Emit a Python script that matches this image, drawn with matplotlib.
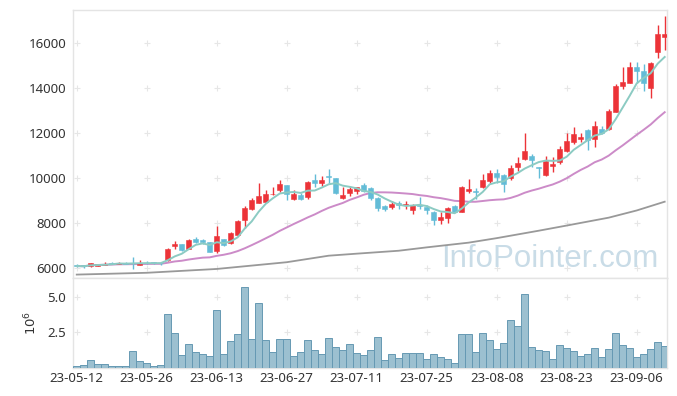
import numpy as np
import pandas as pd
import matplotlib
matplotlib.use("Agg")
import matplotlib.pyplot as plt

tick_labels = ['23-05-12', '23-05-26', '23-06-13', '23-06-27', '23-07-11',
               '23-07-25', '23-08-08', '23-08-23', '23-09-06']
tick_index = [0, 10, 20, 30, 40, 50, 60, 70, 80]

open_ = [6150, 6150, 6080, 6120, 6150, 6250, 6200, 6250, 6230, 6150,
         6250, 6270, 6240, 6370, 6980, 7080, 6870, 7300, 7250, 7150,
         6750, 7300, 7120, 7480, 8150, 8620, 8920, 8950, 9280, 9480,
         9700, 9060, 9240, 9180, 9930, 9780, 10100, 10000, 9140, 9360,
         9420, 9700, 9560, 9140, 8770, 8740, 8920, 8800, 8600, 8800,
         8740, 8520, 8150, 8220, 8770, 8520, 9420, 9420, 9600, 9890,
         10250, 10150, 10000, 10520, 10860, 10990, 10490, 10160, 10560, 10720,
         11230, 11600, 11750, 12150, 11730, 12180, 12180, 12960, 14100, 14250,
         14930, 14770, 14030, 15600, 16290]
high = [6200, 6160, 6250, 6200, 6300, 6260, 6260, 6260, 6500, 6350,
        6330, 6290, 6260, 6900, 7230, 7100, 7290, 7390, 7300, 7170,
        7880, 7320, 7600, 8150, 8750, 9130, 9780, 9460, 9600, 9920,
        9720, 9500, 9350, 9880, 10190, 10080, 10400, 10030, 9600, 9650,
        9620, 9780, 9600, 9160, 8800, 9000, 9000, 9000, 8860, 9150,
        8800, 8560, 8520, 8740, 8800, 9660, 9960, 9560, 10200, 10360,
        10400, 10170, 10590, 10930, 12000, 11100, 10520, 10980, 10960, 11440,
        12000, 12300, 12000, 12170, 12560, 12330, 13100, 14200, 14930, 15180,
        15180, 15090, 15180, 16820, 17200]
low = [6050, 6000, 6060, 6100, 6130, 6180, 6190, 6190, 5970, 6130,
       6200, 6210, 6150, 6310, 6870, 6750, 6850, 7120, 7100, 6730,
       6700, 7000, 7100, 7450, 7800, 8600, 8880, 8900, 9260, 9400,
       9030, 9020, 9020, 9080, 9600, 9650, 9780, 9320, 9090, 9200,
       9320, 9400, 9020, 8560, 8560, 8620, 8620, 8640, 8410, 8620,
       8400, 7930, 7960, 8020, 8500, 8500, 9360, 9100, 9580, 9780,
       9780, 9400, 9930, 10340, 10820, 10500, 10000, 10100, 10260, 10650,
       11170, 11530, 11630, 11260, 11380, 11990, 12150, 12930, 13950, 14220,
       14250, 13880, 13560, 15330, 15690]
close = [6100, 6080, 6220, 6180, 6210, 6200, 6250, 6200, 6220, 6250,
         6230, 6230, 6220, 6860, 7100, 6820, 7250, 7180, 7180, 6740,
         7440, 7050, 7560, 8100, 8680, 9030, 9210, 9300, 9320, 9750,
         9280, 9300, 9100, 9820, 9780, 9930, 10040, 9360, 9260, 9510,
         9600, 9450, 9140, 8690, 8640, 8870, 8810, 8840, 8800, 8780,
         8600, 8150, 8300, 8670, 8520, 9630, 9510, 9380, 9920, 10220,
         10070, 9740, 10440, 10700, 11210, 10810, 10440, 10780, 10630, 11290,
         11660, 11970, 11850, 11700, 12320, 12030, 12990, 14100, 14290, 14930,
         14780, 14220, 15140, 16410, 16410]
volume_m = [0.12, 0.19, 0.52, 0.26, 0.26, 0.12, 0.12, 0.12, 1.15, 0.45,
            0.33, 0.12, 0.16, 3.75, 2.48, 0.87, 1.64, 1.08, 0.96, 0.82,
            4.10, 0.96, 1.85, 2.41, 5.71, 1.99, 4.59, 1.92, 1.08, 1.99,
            1.99, 0.82, 1.08, 1.92, 1.22, 0.96, 2.06, 1.43, 1.24, 1.64,
            1.01, 0.89, 1.24, 2.13, 0.52, 0.94, 0.66, 1.01, 1.01, 1.01,
            0.59, 0.94, 0.73, 0.59, 0.33, 2.41, 2.41, 1.08, 2.48, 1.92,
            1.29, 1.71, 3.33, 2.93, 5.22, 1.43, 1.24, 1.15, 0.59, 1.57,
            1.36, 1.15, 0.80, 0.94, 1.36, 0.73, 1.29, 2.48, 1.57, 1.36,
            0.73, 0.94, 1.29, 1.78, 1.52]
# long moving average
long_ma_index = [0, 10, 20, 30, 36, 40, 46, 50, 56, 60, 66, 70, 76, 80, 84]
long_ma_value = [5720, 5800, 5970, 6270, 6560, 6650, 6780, 6930, 7140, 7340,
                 7670, 7900, 8250, 8570, 8960]

UP = '#ec3338'
DOWN = '#63bcd7'
GRID = '#e6e6e6'
SPINE = '#e4e4e4'
TXT = '#333333'

n = len(close)
x = np.arange(n)
cs = pd.Series(close, dtype=float)
ma5 = cs.rolling(5, min_periods=1).mean()
ma20 = cs.rolling(20, min_periods=1).mean()

fig = plt.figure(figsize=(6.77, 3.96), dpi=100)
W, H = 677, 396
left, right = 73.3, 667
p_top, p_bot, v_bot = 10.3, 278.3, 367.7
axp = fig.add_axes([left / W, 1 - p_bot / H, (right - left) / W, (p_bot - p_top) / H])
axv = fig.add_axes([left / W, 1 - v_bot / H, (right - left) / W, (v_bot - p_bot) / H], sharex=axp)

fam = ['Noto Sans', 'DejaVu Sans']

for ax in (axp, axv):
    for s in ax.spines.values():
        s.set_color(SPINE)
        s.set_linewidth(1.0)
    ax.tick_params(length=0, colors=TXT, labelsize=9.5)

# candles
for i in range(n):
    o, h, l, c = open_[i], high[i], low[i], close[i]
    col = UP if c >= o else DOWN
    axp.vlines(x[i], l, h, color=col, linewidth=1.0, zorder=3)
    bottom = min(o, c)
    height = max(abs(c - o), 15)
    axp.bar(x[i], height, bottom=bottom, width=0.66, color=col, edgecolor=col,
            linewidth=0.4, zorder=4)

axp.plot(x, ma5, color='#8ccbc3', linewidth=1.4, zorder=5)
axp.plot(x, ma20, color='#cc8bc8', linewidth=1.4, zorder=2)
axp.plot(long_ma_index, long_ma_value, color='#999999', linewidth=1.3, zorder=2)

axp.text(0.985, 0.042, 'InfoPointer.com', transform=axp.transAxes, ha='right',
         va='baseline', fontsize=22.5, color='#c9dce7',
         family=['Liberation Sans', 'DejaVu Sans'], zorder=1)

price_ticks = [6000, 8000, 10000, 12000, 14000, 16000]
axp.set_ylim(5555, 17467)
axp.set_yticks(price_ticks)
axp.set_yticklabels([str(t) for t in price_ticks], family=fam, fontsize=9.5, color=TXT)
axp.tick_params(axis='y', pad=5)
axp.tick_params(axis='x', labelbottom=False)
axp.set_xlim(-0.49, 84.33)

# grid crosses
gx, gy = np.meshgrid(tick_index, price_ticks)
axp.scatter(gx.ravel(), gy.ravel(), marker='+', s=14, color=GRID, linewidths=0.8, zorder=0)

# volume
axv.bar(x, volume_m, width=1.0, color='#9cc0d0', edgecolor='#6699b3', linewidth=0.7, zorder=3)
vol_ticks = [2.5, 5.0]
axv.set_ylim(0, 6.3)
axv.set_yticks(vol_ticks)
axv.set_yticklabels(['2.5', '5.0'], family=fam, fontsize=9.5, color=TXT)
axv.tick_params(axis='y', pad=5)
axv.set_ylabel('$10^6$', fontsize=9.5, color=TXT, labelpad=6)
vgx, vgy = np.meshgrid(tick_index, vol_ticks)
axv.scatter(vgx.ravel(), vgy.ravel(), marker='+', s=14, color=GRID, linewidths=0.8, zorder=0)

axv.set_xticks(tick_index)
axv.set_xticklabels(tick_labels, family=fam, fontsize=9.5, color=TXT)
axv.tick_params(axis='x', pad=3)

fig.savefig('out.png', dpi=100, facecolor='white')
